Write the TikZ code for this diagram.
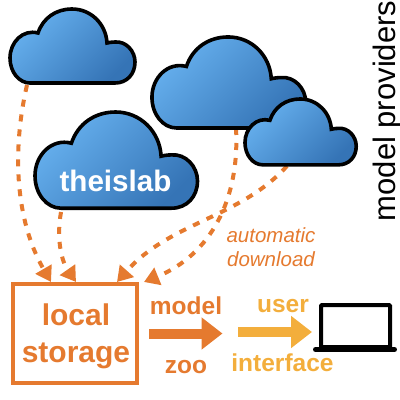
\documentclass[tikz,border=0pt]{standalone}
\usepackage{fontspec}
\setmainfont{Liberation Sans}
\usetikzlibrary{arrows.meta}
\definecolor{cloudlight}{HTML}{66B0EE}
\definecolor{clouddark}{HTML}{3574B6}
\definecolor{storeorange}{HTML}{E57A2F}
\definecolor{useryellow}{HTML}{F3AE3C}
\begin{document}
\begin{tikzpicture}[x=1pt, y=-1pt,
            cloud/.pic={
                \shadedraw[line width=3.6pt, top color=cloudlight, bottom color=clouddark, shading angle=45]
                    (22,76) -- (107,76) .. controls (119,76) and (127,67) .. (127,55)
                    .. controls (127,44) and (118,34) .. (107,35)
                    .. controls (104,35) and (101,35.5) .. (99,36)
                    .. controls (98,17) and (83,2) .. (64,2)
                    .. controls (48,2) and (35,11) .. (30,26)
                    .. controls (15,22) and (2,35) .. (2,51)
                    .. controls (2,65) and (11,76) .. (22,76) -- cycle;
            },
            fetch/.style={draw=storeorange, line width=4pt, dash pattern=on 7pt off 8pt, -{Triangle[length=15pt, width=18pt]}},
            block/.style={line width=10pt, -{Triangle[length=21pt, width=31pt]}},
            store/.style={draw=storeorange, line width=4pt, minimum width=124pt, minimum height=99pt},
            storetext/.style={align=center, text=storeorange, font=\fontsize{30}{37}\selectfont\bfseries},
            label/.style={font=\fontsize{24.5}{28}\selectfont\bfseries}]
            \useasboundingbox (0,0) rectangle (400,400);

            % storage and laptop
            \node[store] (storage) at (75,333.5) {};
            \node[storetext] (storagetext) at (76,336.5) {local\\storage};
            \node[draw, line width=4pt, rounded corners=1pt, minimum width=69pt, minimum height=42pt] (laptop) at (355.5,326) {};
            \draw[line width=5pt, line cap=round] ([shift={(-3.5pt,-0.5pt)}]laptop.south west) -- ([shift={(2.5pt,-0.5pt)}]laptop.south east);

            % start points of the downloads
            \coordinate (c1out) at (27,85);
            \coordinate (c2out) at (61,212);
            \coordinate (c3out) at (236,128);
            \coordinate (c4out) at (287,166);

            % downloads
            \draw[fetch] (c1out) .. controls (12,150) and (15,220) .. ([xshift=40pt]storage.north west);
            \draw[fetch] (c2out) .. controls (56,240) and (62,262) .. ([xshift=65pt]storage.north west);
            \draw[fetch] (c3out) .. controls (240,200) and (210,255) .. ([xshift=5pt]storage.north east);
            \draw[fetch] (c4out) .. controls (240,218) and (170,222) .. ([xshift=106pt]storage.north west);

            % clouds
            \pic at (8,7) {cloud};
            \pic[scale=1.3] at (32.4,109.4) {cloud};
            \pic[scale=1.23] at (149.5,34.5) {cloud};
            \pic[scale=0.89] at (243.2,97.2) {cloud};

            % texts
            \node[text=white, font=\fontsize{29.6}{34}\selectfont\bfseries] (lab) at (115.5,181) {theislab};
            \node[rotate=90, font=\fontsize{31}{36}\selectfont] (providers) at (387,111) {model providers};
            \node[text=storeorange, align=center, font=\fontsize{20.5}{24}\selectfont\itshape] (auto) at (271,247) {automatic\\download};

            % model zoo
            \coordinate (zootip) at (222.5,333.5);
            \draw[block, draw=storeorange, fill=storeorange, shorten <=10pt] (storage.east) -- (zootip);
            \node[label, text=storeorange] (model) at (186,306) {model};
            \node[label, text=storeorange] (zoo) at (186,367) {zoo};

            % user interface
            \coordinate (uistart) at (238,332);
            \draw[block, draw=useryellow, fill=useryellow, shorten >=7pt] (uistart) -- ([yshift=-6pt]laptop.west);
            \node[label, text=useryellow] (user) at (283,306) {user};
            \node[label, text=useryellow] (interface) at (282.5,363) {interface};
        \end{tikzpicture}
\end{document}
